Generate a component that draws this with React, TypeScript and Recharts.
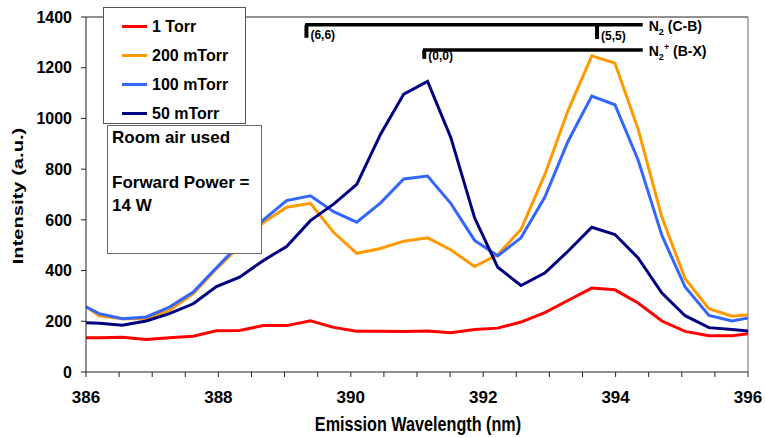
import * as React from "react";
import {
  LineChart,
  Line,
  XAxis,
  YAxis,
  Legend,
  ReferenceLine,
} from "recharts";

// wavelength of each spectrometer sample (nm); first and last fall just outside the axis
const wavelengths = [
  385.85, 386.2, 386.55, 386.91, 387.26, 387.62, 387.97, 388.32, 388.68, 389.03,
  389.39, 389.74, 390.09, 390.45, 390.8, 391.16, 391.51, 391.87, 392.22, 392.57,
  392.93, 393.28, 393.64, 393.99, 394.34, 394.7, 395.05, 395.41, 395.76, 396.12,
];

const torr1 = [
  135, 135, 137, 128, 135, 141, 163, 164, 183, 183, 202, 176, 161, 161, 160,
  162, 155, 168, 173, 197, 234, 282, 331, 324, 272, 201, 160, 143, 143, 155,
];
const mtorr200 = [
  284, 222, 210, 210, 243, 309, 407, 495, 590, 650, 665, 551, 468, 487, 516,
  529, 482, 416, 463, 562, 778, 1030, 1247, 1218, 958, 610, 368, 250, 220, 229,
];
const mtorr100 = [
  277, 230, 210, 217, 256, 315, 411, 505, 600, 676, 695, 632, 591, 667, 761,
  773, 665, 519, 458, 529, 689, 909, 1088, 1054, 836, 538, 335, 223, 201, 219,
];
const mtorr50 = [
  196, 192, 184, 201, 230, 269, 337, 374, 440, 495, 597, 662, 740, 938, 1096,
  1146, 925, 608, 413, 341, 390, 476, 571, 542, 450, 311, 222, 175, 168, 158,
];

const xTicks = [
  386, 386.5, 387, 387.5, 388, 388.5, 389, 389.5, 390, 390.5, 391, 391.5, 392,
  392.5, 393, 393.5, 394, 394.5, 395, 395.5, 396,
];
const yTicks = [0, 200, 400, 600, 800, 1000, 1200, 1400];

const seriesInfo = [
  { key: "torr1", name: "1 Torr", color: "#FF0000" },
  { key: "mtorr200", name: "200 mTorr", color: "#FF9900" },
  { key: "mtorr100", name: "100 mTorr", color: "#3366FF" },
  { key: "mtorr50", name: "50 mTorr", color: "#000080" },
];

// band head markers: bars span x1..x2 at y, ticks hang from y1 down to y2
const bandCB = { x1: 389.31, x2: 394.41, y: 1369 };
const bandBX = { x1: 391.09, x2: 394.41, y: 1270 };
const tick66 = { x: 389.33, y1: 1369, y2: 1318 };
const tick55 = { x: 393.72, y1: 1369, y2: 1313 };
const tick00 = { x: 391.11, y1: 1270, y2: 1235 };

const FONT = "'Liberation Sans', Arial, Helvetica, sans-serif";

const rows = wavelengths.map((wl, i) => ({
  wl,
  torr1: torr1[i],
  mtorr200: mtorr200[i],
  mtorr100: mtorr100[i],
  mtorr50: mtorr50[i],
}));

function tickLabel(text: string) {
  // eslint-disable-next-line @typescript-eslint/no-explicit-any
  return (props: any) => {
    const vb = props.viewBox || {};
    return (
      <text
        x={vb.x + 4}
        y={vb.y + vb.height + 1}
        fontFamily={FONT}
        fontWeight="bold"
        fontSize={12}
        fill="#000"
      >
        {text}
      </text>
    );
  };
}

function bandLabel(main: string, sup: boolean, rest: string) {
  // eslint-disable-next-line @typescript-eslint/no-explicit-any
  return (props: any) => {
    const vb = props.viewBox || {};
    return (
      <text
        x={vb.x + vb.width + 6}
        y={vb.y + 6}
        fontFamily={FONT}
        fontWeight="bold"
        fontSize={14}
        fill="#000"
      >
        {main}
        <tspan fontSize={9} dy={4}>
          2
        </tspan>
        {sup ? (
          <tspan fontSize={9} dy={-10}>
            +
          </tspan>
        ) : null}
        <tspan dy={sup ? 6 : -4}>{rest}</tspan>
      </text>
    );
  };
}

function LegendBox() {
  return (
    <div
      style={{
        width: 143,
        height: 117,
        boxSizing: "border-box",
        border: "1px solid #555",
        background: "#fff",
        fontFamily: FONT,
        fontWeight: "bold",
        fontSize: 16,
        paddingTop: 4,
      }}
    >
      {seriesInfo.map((s) => (
        <div
          key={s.key}
          style={{ display: "flex", alignItems: "center", height: 29 }}
        >
          <div
            style={{
              width: 25,
              height: 3,
              background: s.color,
              marginLeft: 18,
              marginRight: 5,
            }}
          />
          <span>{s.name}</span>
        </div>
      ))}
    </div>
  );
}

export default function App() {
  return (
    <div
      style={{
        position: "absolute",
        left: 0,
        top: 0,
        width: 765,
        height: 438,
        background: "#fff",
        fontFamily: FONT,
      }}
    >
      <LineChart
        width={765}
        height={438}
        data={rows}
        margin={{ top: 17, right: 17, bottom: 36, left: 26 }}
      >
        <XAxis
          dataKey="wl"
          type="number"
          domain={[386, 396]}
          allowDataOverflow
          ticks={xTicks}
          interval={0}
          tickFormatter={(v: number) => (v % 2 === 0 ? String(v) : "")}
          tick={{ fill: "#000", fontSize: 17, fontWeight: "bold", fontFamily: FONT }}
          tickSize={5}
          tickMargin={14}
          stroke="#222"
          label={{
            content: () => (
              <text
                transform="translate(418 431) scale(0.81 1)"
                x={0}
                y={0}
                textAnchor="middle"
                fontFamily={FONT}
                fontWeight="bold"
                fontSize={20}
                fill="#000"
              >
                Emission Wavelength (nm)
              </text>
            ),
          }}
        />
        <YAxis
          type="number"
          domain={[0, 1400]}
          ticks={yTicks}
          interval={0}
          tick={{ fill: "#000", fontSize: 16, fontWeight: "bold", fontFamily: FONT }}
          tickSize={5}
          tickMargin={9}
          stroke="#222"
          width={60}
          label={{
            content: () => (
              <text
                transform="translate(23 196) rotate(-90) scale(1.3 1)"
                x={0}
                y={0}
                textAnchor="middle"
                fontFamily={FONT}
                fontWeight="bold"
                fontSize={15.5}
                fill="#000"
              >
                Intensity (a.u.)
              </text>
            ),
          }}
        />
        <ReferenceLine y={1400} stroke="#222" strokeWidth={1} />
        <ReferenceLine x={396} stroke="#666" strokeWidth={1} />
        {seriesInfo.map((s) => (
          <Line
            key={s.key}
            type="linear"
            dataKey={s.key}
            name={s.name}
            stroke={s.color}
            strokeWidth={3}
            dot={false}
            activeDot={false}
            isAnimationActive={false}
          />
        ))}
        <ReferenceLine
          segment={[
            { x: bandCB.x1, y: bandCB.y },
            { x: bandCB.x2, y: bandCB.y },
          ]}
          stroke="#000"
          strokeWidth={3.5}
          label={{ content: bandLabel("N", false, " (C-B)") }}
        />
        <ReferenceLine
          segment={[
            { x: bandBX.x1, y: bandBX.y },
            { x: bandBX.x2, y: bandBX.y },
          ]}
          stroke="#000"
          strokeWidth={3.5}
          label={{ content: bandLabel("N", true, " (B-X)") }}
        />
        <ReferenceLine
          segment={[
            { x: tick66.x, y: tick66.y1 },
            { x: tick66.x, y: tick66.y2 },
          ]}
          stroke="#000"
          strokeWidth={4}
          label={{ content: tickLabel("(6,6)") }}
        />
        <ReferenceLine
          segment={[
            { x: tick55.x, y: tick55.y1 },
            { x: tick55.x, y: tick55.y2 },
          ]}
          stroke="#000"
          strokeWidth={4}
          label={{ content: tickLabel("(5,5)") }}
        />
        <ReferenceLine
          segment={[
            { x: tick00.x, y: tick00.y1 },
            { x: tick00.x, y: tick00.y2 },
          ]}
          stroke="#000"
          strokeWidth={4}
          label={{ content: tickLabel("(0,0)") }}
        />
        <Legend
          layout="vertical"
          align="center"
          verticalAlign="middle"
          content={() => <LegendBox />}
          wrapperStyle={{ left: 103, top: 7, width: 143, height: 117 }}
        />
      </LineChart>
      <div
        style={{
          position: "absolute",
          left: 107,
          top: 125,
          width: 155,
          height: 129,
          boxSizing: "border-box",
          border: "1px solid #666",
          background: "#fff",
          fontFamily: FONT,
          fontWeight: "bold",
          fontSize: 17,
          lineHeight: "22.5px",
          paddingLeft: 4,
          paddingTop: 1,
        }}
      >
        <div>Room air used</div>
        <div>&nbsp;</div>
        <div>Forward Power =</div>
        <div>14 W</div>
      </div>
    </div>
  );
}
